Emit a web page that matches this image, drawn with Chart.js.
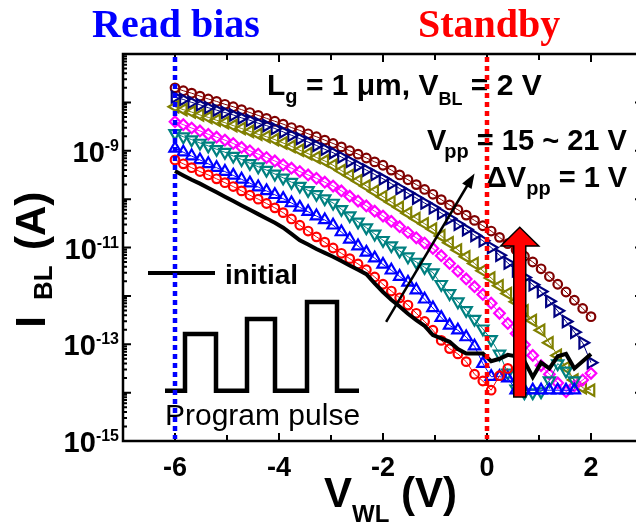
<!DOCTYPE html>
<html lang="en">

<head>
  <meta charset="UTF-8">
  <title>I_BL vs V_WL</title>
  <style>
    html, body { margin: 0; padding: 0; background: #fff; overflow: hidden; }
    #wrap { width: 660px; height: 526px; }
  </style>
</head>

<body>
  <div id="wrap"><canvas id="chart" width="660" height="526"></canvas></div>

  <script src="https://cdn.jsdelivr.net/npm/chart.js"></script>

  <script>
    /* data: V_WL (V) and log10 of I_BL (A) */
    const vwl = [-6, -5.84, -5.68, -5.52, -5.36, -5.2, -5.04, -4.88, -4.72, -4.56, -4.4, -4.24, -4.08,
      -3.92, -3.76, -3.6, -3.44, -3.28, -3.12, -2.96, -2.8, -2.64, -2.48, -2.32, -2.16, -2,
      -1.84, -1.68, -1.52, -1.36, -1.2, -1.04, -0.88, -0.72, -0.56, -0.4, -0.24, -0.08,
      0.08, 0.24, 0.4, 0.56, 0.72, 0.88, 1.04, 1.2, 1.36, 1.52, 1.68, 1.84, 2]

    const logInitial = [-9.42, -9.51, -9.60, -9.68, -9.77, -9.86, -9.95, -10.04, -10.13, -10.22, -10.31, -10.40, -10.49,
      -10.59, -10.72, -10.85, -10.94, -11.03, -11.11, -11.19, -11.28, -11.37, -11.46, -11.55, -11.74, -11.92,
      -12.08, -12.22, -12.37, -12.50, -12.62, -12.81, -12.88, -12.95, -13.10, -13.19, -13.19, -13.19,
      -13.35, -13.30, -13.22, -13.25, -13.35, -13.68, -13.38, -13.50, -13.25, -13.20, -13.50, -13.35, -13.20]
    const log15V = [-9.19, -9.27, -9.35, -9.43, -9.50, -9.58, -9.66, -9.74, -9.83, -9.92, -10.00, -10.09, -10.18,
      -10.28, -10.41, -10.54, -10.66, -10.78, -10.89, -11.01, -11.12, -11.23, -11.34, -11.46, -11.61, -11.76,
      -11.90, -12.04, -12.19, -12.36, -12.53, -12.71, -12.92, -13.09, -13.20, -13.36, -13.62, -13.76,
      -13.95, -13.65, -13.50, null, null, null, null, null, null, null, null, null, null]
    const log16V = [-8.95, -9.03, -9.11, -9.19, -9.27, -9.35, -9.43, -9.51, -9.59, -9.67, -9.75, -9.83, -9.91,
      -9.99, -10.08, -10.17, -10.26, -10.35, -10.43, -10.54, -10.68, -10.83, -10.97, -11.10, -11.22, -11.35,
      -11.47, -11.60, -11.72, -11.88, -12.07, -12.25, -12.45, -12.61, -12.71, -12.85, -13.04, -13.40,
      -13.67, -13.67, -13.70, -13.95, -13.95, -13.95, -13.95, -13.95, -13.95, -13.95, -13.95, null, null]
    const log17V = [-8.64, -8.71, -8.77, -8.84, -8.90, -8.97, -9.03, -9.11, -9.18, -9.26, -9.33, -9.40, -9.48,
      -9.56, -9.65, -9.73, -9.82, -9.90, -9.99, -10.08, -10.21, -10.34, -10.47, -10.59, -10.72, -10.85,
      -10.96, -11.07, -11.19, -11.30, -11.41, -11.52, -11.76, -11.95, -12.12, -12.30, -12.48, -12.68,
      -12.90, -13.20, -13.59, -13.92, -14.00, -14.00, -13.98, -13.75, -13.40, -13.55, -13.75, null, null]
    const log18V = [-8.40, -8.46, -8.53, -8.59, -8.66, -8.72, -8.78, -8.85, -8.93, -9.00, -9.07, -9.14, -9.21,
      -9.29, -9.36, -9.43, -9.50, -9.57, -9.65, -9.73, -9.83, -9.94, -10.04, -10.14, -10.25, -10.35,
      -10.46, -10.57, -10.69, -10.80, -10.91, -11.02, -11.17, -11.33, -11.49, -11.65, -11.81, -11.97,
      -12.15, -12.36, -12.57, -12.78, -13.01, -13.23, -13.44, -13.62, -13.80, -13.98, -13.86, -13.74, -13.60]
    const log19V = [-8.09, -8.15, -8.20, -8.26, -8.31, -8.37, -8.42, -8.48, -8.54, -8.60, -8.66, -8.71, -8.77,
      -8.84, -8.91, -8.99, -9.06, -9.14, -9.21, -9.30, -9.41, -9.51, -9.62, -9.73, -9.84, -9.95,
      -10.06, -10.17, -10.29, -10.40, -10.51, -10.62, -10.76, -10.90, -11.05, -11.19, -11.33, -11.48,
      -11.63, -11.79, -11.95, -12.12, -12.31, -12.51, -12.71, -12.97, -13.23, -13.48, -13.74, -13.90, -13.95]
    const log20V = [-7.89, -7.94, -8.00, -8.05, -8.11, -8.16, -8.21, -8.26, -8.32, -8.37, -8.43, -8.48, -8.54,
      -8.61, -8.68, -8.75, -8.82, -8.89, -8.97, -9.04, -9.13, -9.22, -9.31, -9.40, -9.49, -9.58,
      -9.68, -9.78, -9.88, -9.98, -10.08, -10.18, -10.29, -10.40, -10.52, -10.63, -10.75, -10.86,
      -11.00, -11.16, -11.32, -11.48, -11.62, -11.77, -11.91, -12.11, -12.31, -12.53, -12.75, -12.97, -13.38]
    const log21V = [-7.70, -7.76, -7.81, -7.87, -7.93, -7.98, -8.04, -8.09, -8.15, -8.21, -8.27, -8.33, -8.39,
      -8.45, -8.52, -8.58, -8.65, -8.71, -8.78, -8.85, -8.92, -9.00, -9.07, -9.15, -9.23, -9.30,
      -9.40, -9.50, -9.60, -9.70, -9.80, -9.90, -10.01, -10.12, -10.22, -10.33, -10.44, -10.55,
      -10.66, -10.79, -10.92, -11.05, -11.18, -11.30, -11.44, -11.60, -11.76, -11.92, -12.09, -12.26, -12.43]

    const xTicks = [-7, -6, -5, -4, -3, -2, -1, 0, 1, 2, 3]
    const yLabelExps = [-15, -13, -11, -9]

    const SANS = '"Liberation Sans", Arial, sans-serif'
    const SERIF = '"Liberation Serif", "Times New Roman", serif'

    const pts = arr => vwl.map((v, i) => ({ x: v, y: arr[i] === null ? null : 10 ** arr[i] }))

    function markers(label, arr, color, style, rot, r) {
      return {
        label, data: pts(arr), borderColor: color, backgroundColor: 'transparent',
        borderWidth: 1, pointStyle: style, pointRotation: rot, pointRadius: r,
        pointBorderWidth: 2.2, pointBorderColor: color, pointBackgroundColor: 'transparent'
      }
    }

    // text pieces with sub/superscripts, left to right
    function runs(ctx, x, y, parts) {
      for (const p of parts) {
        ctx.font = (p.w || 'bold') + ' ' + p.s + 'px ' + SANS
        ctx.fillText(p.t, x, y + (p.dy || 0))
        x += ctx.measureText(p.t).width + (p.gap || 0)
      }
    }

    const decor = {
      id: 'decor',
      afterDraw(chart) {
        const { ctx, chartArea: a, scales: { x, y } } = chart
        ctx.save()
        ctx.fillStyle = '#000'
        ctx.strokeStyle = '#000'

        // frame + inward ticks
        ctx.lineWidth = 2.5
        ctx.strokeRect(a.left, a.top, a.right - a.left, a.bottom - a.top)
        ctx.lineWidth = 2
        ctx.beginPath()
        xTicks.forEach(v => {
          const px = x.getPixelForValue(v)
          const len = v % 2 === 0 ? 8 : 6
          ctx.moveTo(px, a.bottom); ctx.lineTo(px, a.bottom - len)
          ctx.moveTo(px, a.top); ctx.lineTo(px, a.top + len)
        })
        for (let e = -15; e <= -7; e++) {
          for (let m = 1; m <= 9; m++) {
            if (e === -7 && m > 1) break
            const py = y.getPixelForValue(m * 10 ** e)
            const len = m === 1 ? 8 : 4
            ctx.moveTo(a.left, py); ctx.lineTo(a.left + len, py)
            ctx.moveTo(a.right, py); ctx.lineTo(a.right - len, py)
          }
        }
        ctx.stroke()

        // y tick labels 10^n
        ctx.textBaseline = 'alphabetic'
        ctx.textAlign = 'right'
        yLabelExps.forEach(e => {
          const py = y.getPixelForValue(10 ** e)
          const sup = String(e)
          ctx.font = 'bold 16px ' + SANS
          const w = ctx.measureText(sup).width
          ctx.fillText(sup, 119, py)
          ctx.font = 'bold 29px ' + SANS
          ctx.fillText('10', 119 - w, py + 11)
        })
        ctx.textAlign = 'left'

        // axis titles
        runs(ctx, 324, 507, [{ t: 'V', s: 42 }, { t: 'WL', s: 24, dy: 15 }, { t: ' (V)', s: 42 }])
        ctx.save()
        ctx.rotate(-Math.PI / 2)
        ctx.font = 'bold 42px ' + SANS
        ctx.textAlign = 'center'
        ctx.fillText('I', -322, 45)
        ctx.textAlign = 'left'
        ctx.font = 'bold 26px ' + SANS
        ctx.fillText('BL', -300, 52)
        ctx.font = 'bold 42px ' + SANS
        ctx.fillText('(A)', -250, 45)
        ctx.restore()

        // headers
        ctx.font = 'bold 40px ' + SERIF
        ctx.fillStyle = '#0000FF'
        ctx.fillText('Read bias', 92, 37)
        ctx.fillStyle = '#FF0000'
        ctx.fillText('Standby', 418, 37)
        ctx.fillStyle = '#000'

        // annotations
        runs(ctx, 267, 95, [{ t: 'L', s: 30 }, { t: 'g', s: 20, dy: 8 }, { t: ' = 1 \u03bcm, V', s: 30 },
          { t: 'BL', s: 18, dy: 10 }, { t: ' = 2 V', s: 30 }])
        runs(ctx, 427, 150, [{ t: 'V', s: 29, gap: -2 }, { t: 'pp', s: 20, dy: 8 }, { t: ' = 15 ~ 21 V', s: 29 }])
        runs(ctx, 486, 187, [{ t: '\u0394V', s: 29 }, { t: 'pp', s: 20, dy: 8 }, { t: ' = 1 V', s: 29 }])

        // legend for the initial curve
        ctx.lineWidth = 4
        ctx.beginPath(); ctx.moveTo(148, 273); ctx.lineTo(215, 273); ctx.stroke()
        ctx.font = 'bold 28px ' + SANS
        ctx.fillText('initial', 225, 284)

        // program pulse sketch
        ctx.lineWidth = 4.5
        ctx.lineJoin = 'miter'
        ctx.beginPath()
        const base = 390.7
        ctx.moveTo(165, base)
        ;[[185, 216, 334], [247, 275, 319], [307, 337, 302]].forEach(([x0, x1, top]) => {
          ctx.lineTo(x0, base); ctx.lineTo(x0, top); ctx.lineTo(x1, top); ctx.lineTo(x1, base)
        })
        ctx.lineTo(359, base)
        ctx.stroke()
        ctx.font = '30px ' + SANS
        ctx.fillText('Program pulse', 165, 425)

        // thin black arrow (Vpp increasing)
        const t0 = { x: x.getPixelForValue(-1.94), y: y.getPixelForValue(2.9e-13) }
        const t1 = { x: x.getPixelForValue(-0.24), y: y.getPixelForValue(3.4e-10) }
        const ang = Math.atan2(t1.y - t0.y, t1.x - t0.x)
        ctx.lineWidth = 2.5
        ctx.beginPath(); ctx.moveTo(t0.x, t0.y)
        ctx.lineTo(t1.x - 10 * Math.cos(ang), t1.y - 10 * Math.sin(ang)); ctx.stroke()
        ctx.beginPath()
        ctx.moveTo(t1.x, t1.y)
        ctx.lineTo(t1.x - 15 * Math.cos(ang) + 5.5 * Math.sin(ang), t1.y - 15 * Math.sin(ang) - 5.5 * Math.cos(ang))
        ctx.lineTo(t1.x - 15 * Math.cos(ang) - 5.5 * Math.sin(ang), t1.y - 15 * Math.sin(ang) + 5.5 * Math.cos(ang))
        ctx.closePath(); ctx.fill()

        // big red arrow
        const cx = x.getPixelForValue(0.63)
        const yb = y.getPixelForValue(8.1e-15)
        const yh = y.getPixelForValue(1.07e-11)
        const yt = y.getPixelForValue(2.63e-11)
        ctx.beginPath()
        ctx.moveTo(cx - 6, yb); ctx.lineTo(cx - 6, yh); ctx.lineTo(cx - 19, yh); ctx.lineTo(cx, yt)
        ctx.lineTo(cx + 19, yh); ctx.lineTo(cx + 6, yh); ctx.lineTo(cx + 6, yb); ctx.closePath()
        ctx.fillStyle = '#FF0000'; ctx.fill()
        ctx.lineWidth = 1.5; ctx.strokeStyle = '#000'; ctx.stroke()

        // dotted bias lines
        ctx.lineWidth = 4.5
        ctx.setLineDash([5, 4])
        ;[[-6, '#0000FF'], [0, '#FF0000']].forEach(([v, c]) => {
          const px = x.getPixelForValue(v)
          ctx.strokeStyle = c
          ctx.beginPath(); ctx.moveTo(px, a.top + 3); ctx.lineTo(px, a.bottom - 2); ctx.stroke()
        })
        ctx.restore()
      }
    }

    const ctx = document.getElementById('chart')
    new Chart(ctx, {
      type: 'line',
      data: {
        datasets: [
          {
            label: 'initial', data: pts(logInitial), borderColor: '#000', borderWidth: 4,
            pointRadius: 0, tension: 0
          },
          markers('15 V', log15V, '#FF0000', 'circle', 0, 4.3),
          markers('16 V', log16V, '#0000FF', 'triangle', 0, 6.5),
          markers('17 V', log17V, '#008080', 'triangle', 180, 6.5),
          markers('18 V', log18V, '#FF00FF', 'rectRot', 0, 5.3),
          markers('19 V', log19V, '#808000', 'triangle', 270, 6.5),
          markers('20 V', log20V, '#000080', 'triangle', 90, 6.5),
          markers('21 V', log21V, '#800000', 'circle', 0, 4.3)
        ]
      },
      options: {
        responsive: false,
        animation: false,
        devicePixelRatio: 1,
        layout: { padding: { top: 54, right: 17, left: 0, bottom: 0 } },
        plugins: { legend: { display: false }, tooltip: { enabled: false } },
        scales: {
          x: {
            type: 'linear', min: -7, max: 3,
            grid: { display: false, drawTicks: false }, border: { display: false },
            afterBuildTicks: s => { s.ticks = xTicks.map(v => ({ value: v })) },
            ticks: {
              autoSkip: false, maxRotation: 0, padding: 11, color: '#000',
              font: { family: SANS, size: 27, weight: 'bold' },
              callback: v => (v % 2 === 0 ? String(v) : '')
            },
            afterFit: s => { s.height = 85 }
          },
          y: {
            type: 'logarithmic', min: 1e-15, max: 1e-7,
            grid: { display: false, drawTicks: false }, border: { display: false },
            ticks: { display: false },
            afterFit: s => { s.width = 123 }
          }
        }
      },
      plugins: [decor]
    })
  </script>
</body>

</html>
